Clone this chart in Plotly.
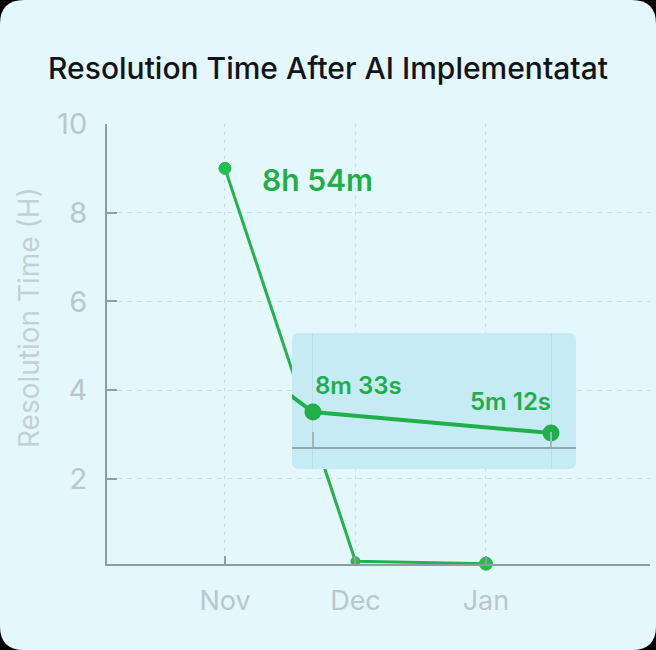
import math
import plotly.graph_objects as go

# ---- data ----
months = ["Nov", "Dec", "Jan"]
hours = [9.0, 0.1425, 0.0867]
value_labels = ["8h 54m", "8m 33s", "5m 12s"]
y_ticks = [2, 4, 6, 8, 10]
title_text = "Resolution Time After AI Implementatat"
y_title = "Resolution Time (H)"

# ---- layout geometry ----
W, H = 656, 650
ML, MR, MT, MB = 107, 6, 124, 86
PW, PH = W - ML - MR, H - MT - MB

def px(x):
    return (x - ML) / PW

def py(y):
    return (H - MB - y) / PH

CARD = "#e4f7fc"
GREEN = "#22b34c"
GREEN_TXT = "#1fae4a"
AXIS = "#8d9ea2"
TICKTXT = "#b8c7cb"
GRID = "#cfdde1"
FONT = "Inter"

fig = go.Figure()

# main series
fig.add_trace(go.Scatter(
    x=months, y=hours, mode="lines+markers",
    line=dict(color=GREEN, width=3),
    marker=dict(size=[12, 9, 13], color="#1fc04c", opacity=1),
    xaxis="x", yaxis="y", cliponaxis=False, hoverinfo="skip", showlegend=False,
))

# inset (zoomed) series
fig.add_trace(go.Scatter(
    x=months, y=hours, mode="lines+markers",
    line=dict(color="#1fb04a", width=4),
    marker=dict(size=17, color="#1fb04a", opacity=1),
    xaxis="x2", yaxis="y2", cliponaxis=True, hoverinfo="skip", showlegend=False,
))

# inset geometry
IX0, IX1, IY0, IY1 = 292, 576, 333, 469   # inset box in pixels
x2_range = [0.912, 2.105]
y2_range = [-1.432, -0.034]

r = 24
card_path = (
    f"M {px(r)},{py(0)} L {px(W - r)},{py(0)} Q {px(W)},{py(0)} {px(W)},{py(r)} "
    f"L {px(W)},{py(H - r)} Q {px(W)},{py(H)} {px(W - r)},{py(H)} "
    f"L {px(r)},{py(H)} Q {px(0)},{py(H)} {px(0)},{py(H - r)} "
    f"L {px(0)},{py(r)} Q {px(0)},{py(0)} {px(r)},{py(0)} Z"
)

# rounded inset box in inset-axis coordinates
ri = 7
dx = ri * (x2_range[1] - x2_range[0]) / (IX1 - IX0)
dl = ri * (y2_range[1] - y2_range[0]) / (IY1 - IY0)
xa, xb = x2_range
la, lb = y2_range
Y = lambda l: 10 ** l
inset_path = (
    f"M {xa + dx},{Y(la)} L {xb - dx},{Y(la)} Q {xb},{Y(la)} {xb},{Y(la + dl)} "
    f"L {xb},{Y(lb - dl)} Q {xb},{Y(lb)} {xb - dx},{Y(lb)} "
    f"L {xa + dx},{Y(lb)} Q {xa},{Y(lb)} {xa},{Y(lb - dl)} "
    f"L {xa},{Y(la + dl)} Q {xa},{Y(la)} {xa + dx},{Y(la)} Z"
)

shapes = [
    dict(type="path", path=card_path, xref="paper", yref="paper",
         fillcolor=CARD, line=dict(width=0), layer="below"),
    dict(type="path", path=inset_path, xref="x2", yref="y2",
         fillcolor="#c6ebf4", line=dict(width=0), layer="below"),
]

annotations = [
    dict(x=months[0], y=hours[0], xref="x", yref="y", text=value_labels[0],
         showarrow=False, xanchor="left", yanchor="middle", xshift=35, yshift=-12,
         font=dict(family=FONT, size=30, color=GREEN_TXT, weight=600)),
    dict(x=months[1], y=math.log10(hours[1]), xref="x2", yref="y2", text=value_labels[1],
         showarrow=False, xanchor="left", yanchor="middle", xshift=0, yshift=27,
         font=dict(family=FONT, size=24, color=GREEN_TXT, weight=600)),
    dict(x=months[2], y=math.log10(hours[2]), xref="x2", yref="y2", text=value_labels[2],
         showarrow=False, xanchor="right", yanchor="middle", xshift=2, yshift=32,
         font=dict(family=FONT, size=24, color=GREEN_TXT, weight=600)),
    dict(x=px(29), y=py(318), xref="paper", yref="paper", text=y_title,
         showarrow=False, textangle=-90, xanchor="center", yanchor="middle",
         font=dict(family=FONT, size=28, color="#c3d1d5")),
]

fig.update_layout(
    width=W, height=H,
    margin=dict(l=ML, r=MR, t=MT, b=MB, pad=0),
    paper_bgcolor="#000000",
    plot_bgcolor="rgba(0,0,0,0)",
    font=dict(family=FONT),
    title=dict(text=title_text, x=0.5, xanchor="center", xref="container",
               y=1 - 68 / H, yanchor="middle",
               font=dict(family=FONT, size=30, color="#111418", weight=500)),
    xaxis=dict(
        type="category", categoryorder="array", categoryarray=months,
        range=[-0.904, 3.257], anchor="y",
        showline=True, linecolor=AXIS, linewidth=2,
        ticks="inside", ticklen=8, tickwidth=2, tickcolor=AXIS,
        showgrid=True, gridcolor=GRID, gridwidth=1, griddash="3px,5px",
        zeroline=False, tickfont=dict(family=FONT, size=27, color=TICKTXT),
        ticklabelstandoff=12,
    ),
    yaxis=dict(
        range=[0.08, 10], anchor="x", tickvals=y_ticks,
        showline=True, linecolor=AXIS, linewidth=2,
        ticks="inside", ticklen=10, tickwidth=2, tickcolor=AXIS,
        showgrid=True, gridcolor=GRID, gridwidth=1, griddash="5px,5px",
        zeroline=False, tickfont=dict(family=FONT, size=29, color=TICKTXT),
        ticklabelstandoff=12,
    ),
    xaxis2=dict(
        type="category", categoryorder="array", categoryarray=months,
        domain=[px(IX0), px(IX1)], range=x2_range,
        anchor="free", position=py(448),
        showline=True, linecolor="#93a7ad", linewidth=2,
        ticks="inside", ticklen=15, tickwidth=1.5, tickcolor="#a3b6bb",
        showticklabels=False,
        showgrid=True, gridcolor="#b8dfe8", gridwidth=1,
        zeroline=False,
    ),
    yaxis2=dict(
        type="log", domain=[py(IY1), py(IY0)], range=y2_range, anchor="x2",
        visible=False, showgrid=False, zeroline=False,
    ),
    shapes=shapes,
    annotations=annotations,
    showlegend=False,
)

fig.write_html("out.html")
